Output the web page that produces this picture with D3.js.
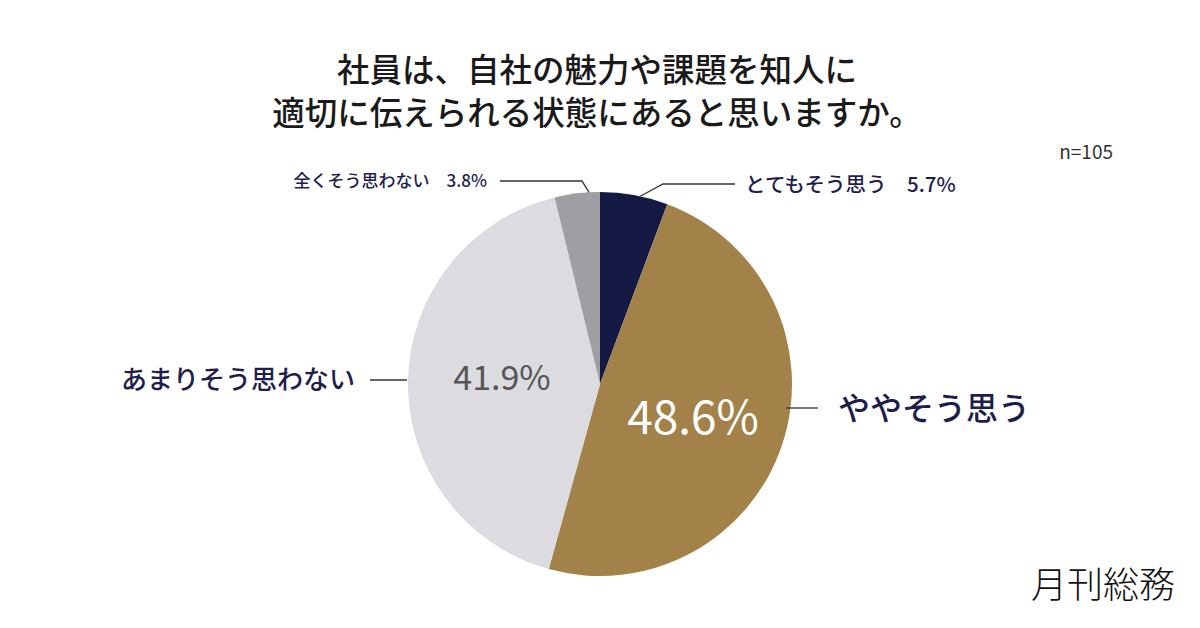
<!DOCTYPE html>
<html>
<head>
<meta charset="utf-8">
<script src="https://cdn.jsdelivr.net/npm/d3@7"></script>
<style>
    body { margin: 0; background: #fff; }
    text { font-family: "Noto Sans CJK JP", "Noto Sans", sans-serif; }
</style>
</head>
<body>
<svg id="pie-svg" width="1200" height="628"></svg>
<script>
// answers, clockwise from 12 o'clock
let categories = ["とてもそう思う", "ややそう思う", "あまりそう思わない", "全くそう思わない"]
let values = [5.7, 48.6, 41.9, 3.8]
let sliceColors = ["#151a45", "#a3824a", "#dcdbe0", "#9e9ea3"]
let titleLines = ["社員は、自社の魅力や課題を知人に", "適切に伝えられる状態にあると思いますか。"]
let sampleNote = "n=105"

let svg = d3.select("#pie-svg")
let cx = 600, cy = 384, radius = 192
let labelColor = "#1e1e4c"

// title, two lines in one text block
let title = svg.append("text")
    .attr("x", 597)
    .attr("y", 82)
    .attr("text-anchor", "middle")
    .attr("font-size", 32.5)
    .attr("font-weight", 500)
    .attr("fill", "#1a1a1a")
title.selectAll("tspan")
    .data(titleLines)
    .enter().append("tspan")
    .attr("x", 597)
    .attr("dy", (d, i) => i == 0 ? 0 : 43)
    .text(d => d)

svg.append("text")
    .attr("x", 1113).attr("y", 159)
    .attr("text-anchor", "end")
    .attr("font-size", 19)
    .attr("fill", "#333")
    .attr("font-family", "'Noto Sans', sans-serif")
    .text(sampleNote)

let pie = d3.pie().sort(null).value(d => d)
let arcs = pie(values)
let arcGen = d3.arc().innerRadius(0).outerRadius(radius)

let chart = svg.append("g").attr("transform", "translate(" + cx + "," + cy + ")")
chart.selectAll("path")
    .data(arcs)
    .enter().append("path")
    .attr("d", arcGen)
    .attr("fill", (d, i) => sliceColors[i])

// point on the rim at a fraction through a slice
function rim(a, f, r) {
    let ang = a.startAngle + (a.endAngle - a.startAngle) * f
    return [Math.sin(ang) * r, -Math.cos(ang) * r]
}

let line = d3.line()
function leader(pts) {
    chart.append("path")
        .attr("d", line(pts))
        .attr("fill", "none")
        .attr("stroke", "#333")
        .attr("stroke-width", 1.3)
}

// とてもそう思う
let p0 = rim(arcs[0], 0.59, radius)
leader([p0, [63, -200], [135, -200]])
chart.append("text")
    .attr("x", 145).attr("y", -192)
    .attr("font-size", 20.5).attr("font-weight", 500)
    .attr("fill", labelColor)
    .text(categories[0] + "\u3000" + values[0] + "%")

// 全くそう思わない
let p3 = rim(arcs[3], 0.76, radius)
leader([p3, [-18, -203], [-100, -203]])
chart.append("text")
    .attr("x", -113).attr("y", -197)
    .attr("text-anchor", "end")
    .attr("font-size", 17).attr("font-weight", 500)
    .attr("fill", labelColor)
    .text(categories[3] + "\u3000" + values[3] + "%")

// ややそう思う
leader([[186, 24], [218, 24]])
chart.append("text")
    .attr("x", 238).attr("y", 36)
    .attr("font-size", 32).attr("font-weight", 500)
    .attr("fill", labelColor)
    .text(categories[1])

chart.append("text")
    .attr("x", 93).attr("y", 50)
    .attr("text-anchor", "middle")
    .attr("font-size", 46)
    .attr("font-family", "'Noto Sans', sans-serif")
    .attr("fill", "#fff")
    .text(values[1] + "%")

// あまりそう思わない
leader([[-230, -4], [-193, -4]])
chart.append("text")
    .attr("x", -245).attr("y", 5)
    .attr("text-anchor", "end")
    .attr("font-size", 26).attr("font-weight", 500)
    .attr("fill", labelColor)
    .text(categories[2])

chart.append("text")
    .attr("x", -98).attr("y", 6)
    .attr("text-anchor", "middle")
    .attr("font-size", 34)
    .attr("font-family", "'Noto Sans', sans-serif")
    .attr("fill", "#555")
    .text(values[2] + "%")

// logo
svg.append("text")
    .attr("x", 1175).attr("y", 598)
    .attr("text-anchor", "end")
    .attr("font-size", 36)
    .attr("font-weight", 200)
    .attr("fill", "#111")
    .text("月刊総務")
</script>
</body>
</html>
